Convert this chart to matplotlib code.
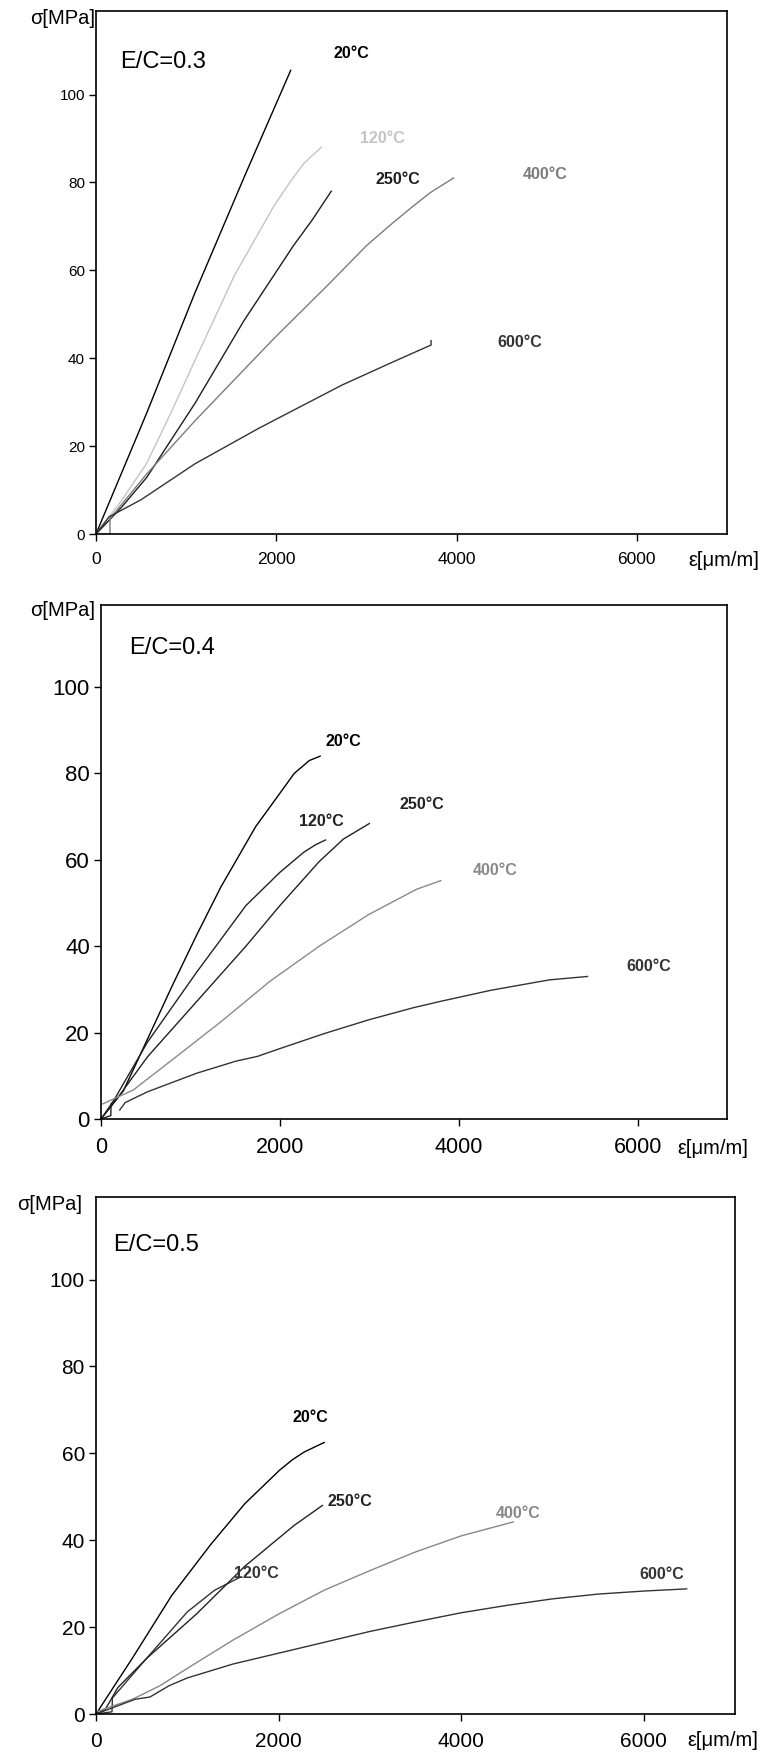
import matplotlib
matplotlib.use("Agg")
import matplotlib.pyplot as plt

plt.rcParams['font.family'] = ['Liberation Sans', 'DejaVu Sans']

W, H = 767, 1757

# ---- E/C = 0.3 ----
p1_20_x = [0, 560, 1100, 1650, 2160]
p1_20_y = [0, 27.4, 55, 81.5, 105.5]
p1_120_x = [0, 280, 560, 830, 1100, 1540, 1970, 2150, 2300, 2420, 2500]
p1_120_y = [0, 7.5, 16, 27.5, 39.6, 59, 74.5, 80, 84.2, 86.5, 88]
p1_250_x = [0, 280, 560, 1100, 1640, 2190, 2400, 2610]
p1_250_y = [0, 6, 12.8, 29.8, 48.5, 65.6, 71.5, 78]
p1_400_x = [0, 155, 155, 560, 1100, 1970, 2570, 3000, 3270, 3500, 3710, 3967]
p1_400_y = [0, 0, 3.5, 13.6, 25.8, 44.4, 56.6, 65.6, 70.4, 74.3, 77.7, 81]
p1_600_x = [0, 145, 500, 1100, 1810, 2730, 3300, 3717, 3717]
p1_600_y = [0, 3.9, 7.8, 16, 24.1, 33.9, 39.2, 43, 44]

# ---- E/C = 0.4 ----
p2_20_x = [0, 250, 410, 800, 1070, 1340, 1730, 2000, 2160, 2330, 2450]
p2_20_y = [0, 6.5, 13.6, 31, 42.6, 53.7, 67.7, 75.4, 80, 83, 84]
p2_120_x = [0, 140, 520, 1070, 1620, 2000, 2270, 2400, 2510]
p2_120_y = [0, 4.2, 17.8, 34, 49.4, 57.1, 61.8, 63.5, 64.6]
p2_250_x = [0, 110, 112, 190, 520, 1070, 1620, 2000, 2440, 2710, 3000]
p2_250_y = [0, 0.8, 3.5, 5, 14.4, 27.2, 40, 49.4, 59.6, 64.8, 68.4]
p2_400_x = [20, 360, 790, 1340, 1890, 2440, 2990, 3530, 3800]
p2_400_y = [3.5, 6.7, 13.6, 22.5, 31.9, 40, 47.3, 53.2, 55.2]
p2_600_x = [210, 270, 520, 1070, 1510, 1750, 2000, 2500, 3000, 3500, 3810, 4360, 5010, 5440]
p2_600_y = [2.1, 3.8, 6.3, 10.6, 13.4, 14.5, 16.3, 19.8, 23.0, 25.8, 27.3, 29.8, 32.2, 33]

# ---- E/C = 0.5 ----
p3_20_x = [0, 400, 830, 1260, 1630, 2010, 2150, 2280, 2400, 2500]
p3_20_y = [0, 12.9, 27.3, 39.1, 48.4, 56.1, 58.5, 60.3, 61.5, 62.5]
p3_120_x = [0, 175, 180, 500, 1000, 1300, 1580]
p3_120_y = [0, 0.5, 3.7, 11.5, 23.5, 28.5, 31.5]
p3_250_x = [0, 100, 240, 560, 1100, 1630, 2170, 2480]
p3_250_y = [0, 1, 6.1, 12.9, 23, 34, 43.4, 48]
p3_400_x = [0, 400, 700, 1000, 1500, 2000, 2500, 3000, 3500, 4000, 4570]
p3_400_y = [0.5, 3.4, 6.5, 10.5, 17, 23, 28.5, 33, 37.3, 41, 44.2]
p3_600_x = [0, 430, 590, 800, 1000, 1500, 2000, 2500, 3000, 3500, 4000, 4500, 5000, 5500, 6000, 6470]
p3_600_y = [0, 3.4, 3.9, 6.5, 8.3, 11.5, 14, 16.5, 19, 21.2, 23.3, 25, 26.5, 27.6, 28.3, 28.8]

temps = ['20°C', '120°C', '250°C', '400°C', '600°C']

panels = [
    dict(box=(96, 727, 11, 534), ec='E/C=0.3',
         series=[(p1_20_x, p1_20_y), (p1_120_x, p1_120_y), (p1_250_x, p1_250_y),
                 (p1_400_x, p1_400_y), (p1_600_x, p1_600_y)],
         colors=['#000000', '#c4c4c4', '#1e1e1e', '#7c7c7c', '#333333'],
         labels=[(2830, 109.4), (3180, 89.9), (3354, 80.6), (4980, 81.8), (4700, 43.6)],
         xt=12.5, yt=11, sig=(95, 18), ecpos=(120, 62), eps=(688, 560)),
    dict(box=(101, 727, 605, 1119), ec='E/C=0.4',
         series=[(p2_20_x, p2_20_y), (p2_120_x, p2_120_y), (p2_250_x, p2_250_y),
                 (p2_400_x, p2_400_y), (p2_600_x, p2_600_y)],
         colors=['#000000', '#222222', '#222222', '#8a8a8a', '#333333'],
         labels=[(2712, 87.4), (2466, 68.9), (3589, 72.7), (4411, 57.5), (6120, 35.2)],
         xt=15.5, yt=16, sig=(95, 611), ecpos=(129, 648), eps=(677, 1149)),
    dict(box=(96, 735, 1197, 1714), ec='E/C=0.5',
         series=[(p3_20_x, p3_20_y), (p3_120_x, p3_120_y), (p3_250_x, p3_250_y),
                 (p3_400_x, p3_400_y), (p3_600_x, p3_600_y)],
         colors=['#000000', '#333333', '#222222', '#888888', '#333333'],
         labels=[(2346, 68.3), (1752, 32.3), (2780, 49.0), (4623, 46.1), (6198, 32.1)],
         xt=15, yt=15, sig=(82, 1205), ecpos=(113, 1245), eps=(687, 1740)),
]

fig = plt.figure(figsize=(W / 100, H / 100), dpi=100)

for p in panels:
    l, r, t, b = p['box']
    ax = fig.add_axes([l / W, 1 - b / H, (r - l) / W, (b - t) / H])
    for (x, y), c in zip(p['series'], p['colors']):
        ax.plot(x, y, color=c, lw=1.0)
    for (lx, ly), c, txt in zip(p['labels'], p['colors'], temps):
        ax.text(lx, ly, txt, color=c, fontsize=11.5, fontweight='bold',
                ha='center', va='center')
    ax.set_xlim(0, 7000)
    ax.set_ylim(0, 119)
    ax.set_xticks([0, 2000, 4000, 6000])
    ax.set_yticks([0, 20, 40, 60, 80, 100])
    ax.tick_params(axis='x', labelsize=p['xt'], length=5, width=1, pad=8)
    ax.tick_params(axis='y', labelsize=p['yt'], length=5, width=1, pad=3)
    for s in ax.spines.values():
        s.set_linewidth(1.2)
    fig.text(p['sig'][0] / W, 1 - p['sig'][1] / H, 'σ[MPa]', fontsize=14.5,
             ha='right', va='center')
    fig.text(p['ecpos'][0] / W, 1 - p['ecpos'][1] / H, p['ec'], fontsize=17,
             ha='left', va='center')
    fig.text(p['eps'][0] / W, 1 - p['eps'][1] / H, 'ε[μm/m]', fontsize=14.5,
             ha='left', va='center')

fig.savefig('out.png', dpi=100)
